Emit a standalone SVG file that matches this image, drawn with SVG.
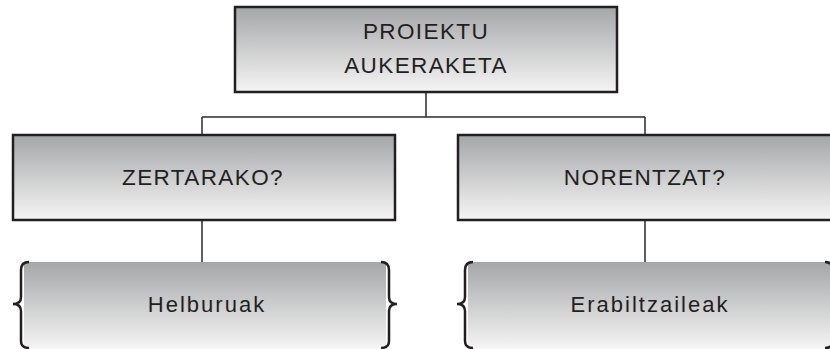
<svg xmlns="http://www.w3.org/2000/svg" width="830" height="349" viewBox="0 0 830 349">
  <defs>
    <linearGradient id="g" x1="0" y1="0" x2="0" y2="1">
      <stop offset="0" stop-color="#a5a6a8"/>
      <stop offset="1" stop-color="#f5f5f5"/>
    </linearGradient>
  </defs>
  <style>
    .box { fill: url(#g); stroke: #231f20; stroke-width: 2.5; }
    .body { fill: url(#g); stroke: none; }
    .brace { fill: none; stroke: #231f20; stroke-width: 2.5; }
    .conn { fill: none; stroke: #2b2b2b; stroke-width: 1.5; }
    .caps { font-family: "Liberation Sans", Arial, sans-serif; font-size: 22.5px; fill: #231f20; text-anchor: middle; letter-spacing: 1.4px; }
    .low { font-family: "Liberation Sans", Arial, sans-serif; font-size: 22px; fill: #231f20; text-anchor: middle; letter-spacing: 2px; }
  </style>
  <g id="connectors">
    <path class="conn" d="M426 92 V117 M202 117 H645 M202 117 V135 M645 117 V135 M202 220 V262 M645 220 V262"/>
  </g>
  <g id="proiektu">
    <rect class="box" x="235" y="7" width="382" height="85"/>
    <text class="caps" x="426" y="39">PROIEKTU</text>
    <text class="caps" x="426" y="73">AUKERAKETA</text>
  </g>
  <g id="zertarako">
    <rect class="box" x="13" y="135" width="382" height="85"/>
    <text class="caps" x="203" y="185">ZERTARAKO?</text>
  </g>
  <g id="norentzat">
    <rect class="box" x="458" y="135" width="376" height="85"/>
    <text class="caps" x="645" y="185">NORENTZAT?</text>
  </g>
  <g id="helburuak">
    <rect class="body" x="24" y="262" width="362" height="87"/>
    <path class="brace" d="M29 262 Q21 262 21 270 V297 Q21 304 13 304 Q21 304 21 311 V341 Q21 348 29 348"/>
    <path class="brace" d="M381 262 Q389 262 389 270 V297 Q389 304 397 304 Q389 304 389 311 V341 Q389 348 381 348"/>
    <text class="low" x="207" y="312">Helburuak</text>
  </g>
  <g id="erabiltzaileak">
    <rect class="body" x="468" y="262" width="362" height="87"/>
    <path class="brace" d="M473 262 Q465 262 465 270 V297 Q465 304 457 304 Q465 304 465 311 V341 Q465 348 473 348"/>
    <path class="brace" d="M825 262 Q833 262 833 270 V297 Q833 304 841 304 Q833 304 833 311 V341 Q833 348 825 348"/>
    <text class="low" x="650" y="312">Erabiltzaileak</text>
  </g>
</svg>
